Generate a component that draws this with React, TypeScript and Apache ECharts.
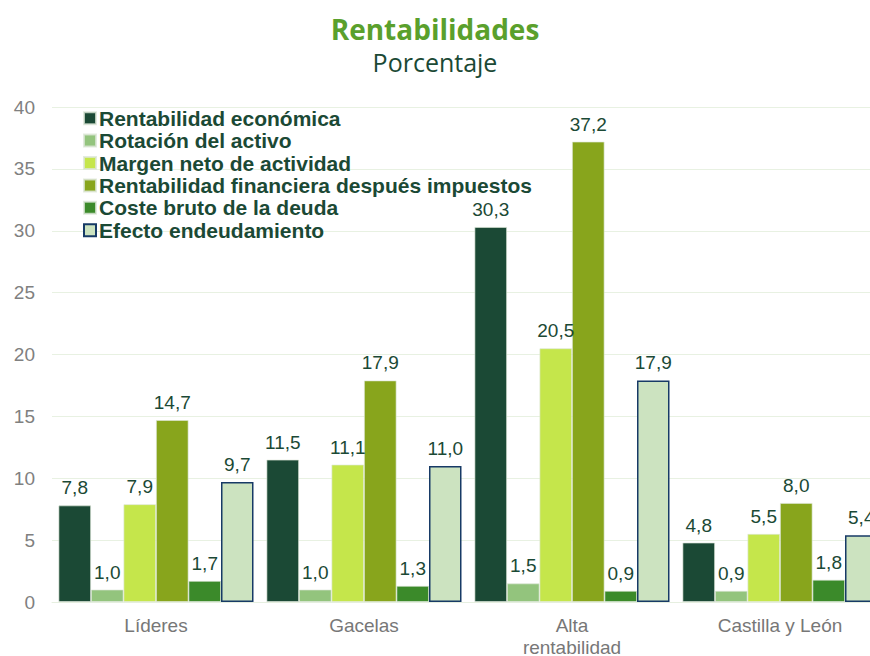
import React, { useEffect, useRef } from "react";
import * as echarts from "echarts";

const categories = ["Líderes", "Gacelas", "Alta\nrentabilidad", "Castilla y León"];
const seriesNames = [
  "Rentabilidad económica",
  "Rotación del activo",
  "Margen neto de actividad",
  "Rentabilidad financiera después impuestos",
  "Coste bruto de la deuda",
  "Efecto endeudamiento",
];
const rentabilidadEconomica = [7.8, 11.5, 30.3, 4.8];
const rotacionActivo = [1.0, 1.0, 1.5, 0.9];
const margenNeto = [7.9, 11.1, 20.5, 5.5];
const rentabilidadFinanciera = [14.7, 17.9, 37.2, 8.0];
const costeBruto = [1.7, 1.3, 0.9, 1.8];
const efectoEndeudamiento = [9.7, 11.0, 17.9, 5.4];
const yTicks = [0, 5, 10, 15, 20, 25, 30, 35, 40];

const colors = ["#1b4935", "#93c47d", "#c5e64b", "#88a51c", "#3b8a2a", "#cce3c0"];

export default function App() {
  const ref = useRef<HTMLDivElement>(null);
  useEffect(() => {
    if (!ref.current) return;
    const chart = echarts.init(ref.current, null, { renderer: "svg" });
    const allData = [
      rentabilidadEconomica,
      rotacionActivo,
      margenNeto,
      rentabilidadFinanciera,
      costeBruto,
      efectoEndeudamiento,
    ];
    const font = "'Liberation Sans', Arial, sans-serif";
    chart.setOption({
      animation: false,
      backgroundColor: "#ffffff",
      title: {
        text: "Rentabilidades",
        subtext: "Porcentaje",
        left: "center",
        top: 10,
        itemGap: 6,
        padding: [5, 0, 5, 12],
        textStyle: { fontFamily: "'Open Sans'", fontWeight: "bold", fontSize: 28, lineHeight: 28, color: "#5aa02c" },
        subtextStyle: { fontFamily: "'Open Sans'", fontWeight: "normal", fontSize: 25, lineHeight: 26, color: "#1b4935" },
      },
      legend: {
        orient: "vertical",
        left: 78,
        top: 102,
        itemWidth: 12,
        itemHeight: 12,
        itemGap: 0,
        icon: "rect",
        data: seriesNames,
        textStyle: {
          fontFamily: font,
          fontWeight: "bold",
          fontSize: 21,
          lineHeight: 22.4,
          color: "#1b4935",
          padding: [0, 0, 0, -2],
        },
      },
      grid: {
        left: 52,
        width: 832,
        top: 107,
        bottom: 54,
        containLabel: false,
        outerBoundsMode: "none",
      },
      xAxis: {
        type: "category",
        data: categories,
        axisTick: { show: false },
        axisLine: { show: true, lineStyle: { color: "#e6efe0" } },
        axisLabel: { fontFamily: font, fontSize: 19, color: "#777777", margin: 12, lineHeight: 22 },
      },
      yAxis: {
        type: "value",
        min: 0,
        max: 40,
        interval: 5,
        axisLabel: {
          fontFamily: font,
          fontSize: 19,
          color: "#808080",
          margin: 17,
          formatter: (v: number) => (yTicks.includes(v) ? String(v) : ""),
        },
        splitLine: { lineStyle: { color: "#e8f1e2" } },
        axisLine: { show: false },
        axisTick: { show: false },
      },
      series: allData.map((d, i) => ({
        name: seriesNames[i],
        type: "bar",
        data: d,
        barWidth: 32.5,
        barGap: "0%",
        itemStyle: {
          color: colors[i],
          borderColor: i === 5 ? "#173a66" : "rgba(220,230,215,0.8)",
          borderWidth: i === 5 ? 1.5 : 0.8,
        },
        label: {
          show: true,
          position: "top",
          distance: 8,
          fontFamily: font,
          fontSize: 19,
          color: "#1b4935",
          formatter: (p: any) => Number(p.value).toFixed(1).replace(".", ","),
        },
      })),
    });
    return () => chart.dispose();
  }, []);
  return (
    <div
      ref={ref}
      style={{ position: "fixed", left: 0, top: 0, width: 870, height: 656, background: "#fff" }}
    />
  );
}
